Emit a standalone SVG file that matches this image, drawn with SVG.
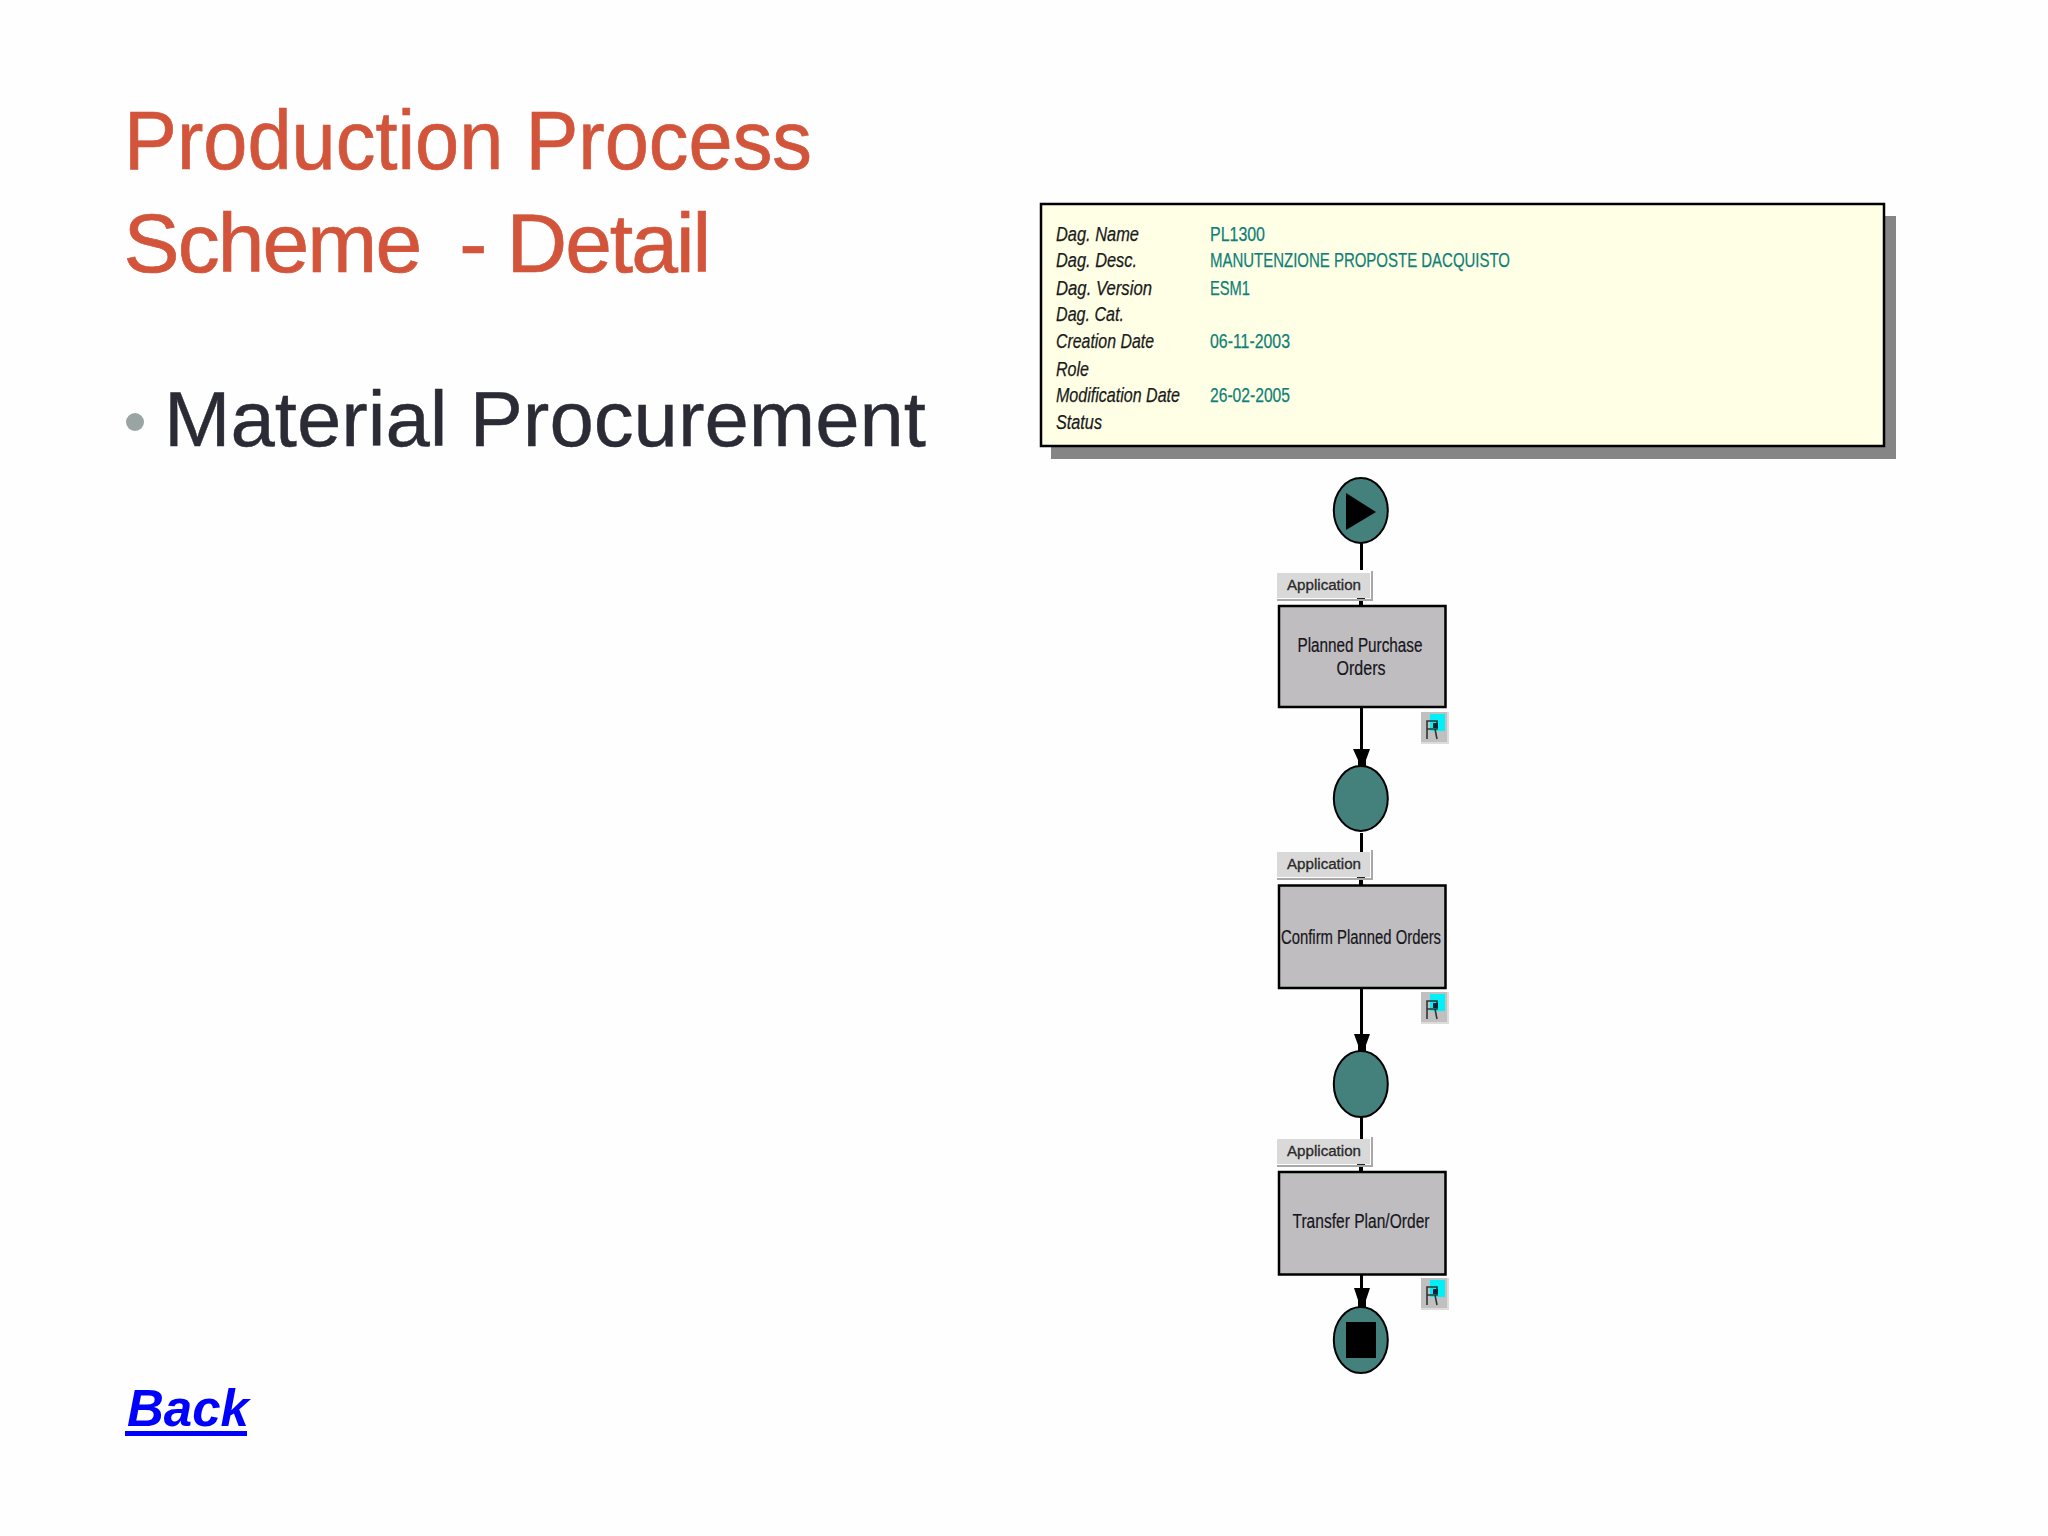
<svg xmlns="http://www.w3.org/2000/svg" width="2048" height="1536" viewBox="0 0 2048 1536">
<defs>
<style>
text{font-family:"Liberation Sans",Arial,sans-serif;white-space:pre}
.title{font-size:84px;fill:#d2553b;stroke:#d2553b;stroke-width:.7}
.bul{font-size:78px;fill:#2b2b35;stroke:#2b2b35;stroke-width:.4}
.lab{font-size:20px;font-style:italic;fill:#1a1a1a;stroke:#1a1a1a;stroke-width:.25}
.val{font-size:20px;fill:#0f7f78;stroke:#0f7f78;stroke-width:.25}
.app{font-size:14px;fill:#2a2a2a;stroke:#2a2a2a;stroke-width:.3;text-anchor:middle}
.nt{font-size:20px;fill:#15151c;stroke:#15151c;stroke-width:.2;text-anchor:middle}
.ev{fill:#44807c;stroke:#000;stroke-width:2}
.fn{fill:#bfbdbf;stroke:#000;stroke-width:2.5}
.appb{fill:#d9d9d9;stroke:none}
.line{stroke:#000;stroke-width:3;fill:none}
.edge{stroke:#a8a8a8;stroke-width:2;fill:none}
</style>
<g id="flag">
<rect x="0" y="0" width="27" height="31" fill="#c0c0c0"/>
<path d="M0 31H27V0" fill="none" stroke="#dcdcdc" stroke-width="2"/>
<rect x="9" y="2" width="15" height="17" fill="#00f0f8"/>
<path d="M6 27V9H16V17H6M14 17L16 27" fill="none" stroke="#333" stroke-width="1.6"/>
<rect x="12" y="11" width="5" height="5" fill="#123"/>
</g>
<g id="tick"><rect x="-4" y="0" width="8" height="3" fill="#222"/><rect x="-2" y="3" width="4" height="5" fill="#000"/></g>
</defs>
<rect width="2048" height="1536" fill="#fefefe"/>
<g id="slide-text">
<text class="title" x="124" y="169" textLength="688" lengthAdjust="spacingAndGlyphs">Production Process</text>
<text class="title" x="123.500" y="272"><tspan letter-spacing="-1.9">Scheme</tspan><tspan letter-spacing="-3.9">  </tspan><tspan letter-spacing="-2">- Detail</tspan></text>
<circle cx="135" cy="422" r="9" fill="#9aa5a3"/>
<text class="bul" x="164" y="446" textLength="762" lengthAdjust="spacingAndGlyphs">Material Procurement</text>
<text x="127" y="1426" font-size="52" font-weight="bold" font-style="italic" fill="#0000ff" textLength="122" lengthAdjust="spacingAndGlyphs">Back</text>
<rect x="125" y="1431" width="122" height="5" fill="#0000ff"/>
</g>
<g id="info-box">
<rect x="1051" y="216" width="845" height="243" fill="#858585"/>
<rect x="1041" y="204" width="843" height="242" fill="#ffffe6" stroke="#000" stroke-width="2.5"/>
<text class="lab" x="1056" y="241" textLength="83" lengthAdjust="spacingAndGlyphs">Dag. Name</text>
<text class="lab" x="1056" y="267" textLength="81" lengthAdjust="spacingAndGlyphs">Dag. Desc.</text>
<text class="lab" x="1056" y="295" textLength="96" lengthAdjust="spacingAndGlyphs">Dag. Version</text>
<text class="lab" x="1056" y="321" textLength="68" lengthAdjust="spacingAndGlyphs">Dag. Cat.</text>
<text class="lab" x="1056" y="348" textLength="98" lengthAdjust="spacingAndGlyphs">Creation Date</text>
<text class="lab" x="1056" y="376" textLength="33" lengthAdjust="spacingAndGlyphs">Role</text>
<text class="lab" x="1056" y="402" textLength="124" lengthAdjust="spacingAndGlyphs">Modification Date</text>
<text class="lab" x="1056" y="429" textLength="46" lengthAdjust="spacingAndGlyphs">Status</text>
<text class="val" x="1210" y="241" textLength="55" lengthAdjust="spacingAndGlyphs">PL1300</text>
<text class="val" x="1210" y="267" textLength="300" lengthAdjust="spacingAndGlyphs">MANUTENZIONE PROPOSTE DACQUISTO</text>
<text class="val" x="1210" y="295" textLength="40" lengthAdjust="spacingAndGlyphs">ESM1</text>
<text class="val" x="1210" y="348" textLength="80" lengthAdjust="spacingAndGlyphs">06-11-2003</text>
<text class="val" x="1210" y="402" textLength="80" lengthAdjust="spacingAndGlyphs">26-02-2005</text>
</g>
<g id="connectors">
<path class="line" d="M1361.5 543V570"/>
<path class="line" d="M1361.5 707V750"/>
<path class="line" d="M1361.5 833V853"/>
<path class="line" d="M1361.5 988V1036"/>
<path class="line" d="M1361.5 1117V1139"/>
<path class="line" d="M1361.5 1275V1290"/>
<polygon points="1353,749 1370,749 1366,760 1366,766 1358,766 1358,760" fill="#000"/>
<polygon points="1354,1034 1370,1034 1366,1045 1366,1051 1358,1051 1358,1045" fill="#000"/>
<polygon points="1354,1288 1370,1288 1366,1300 1366,1307 1358,1307 1358,1300" fill="#000"/>
<use href="#tick" x="1361" y="598"/>
<use href="#tick" x="1361" y="877"/>
<use href="#tick" x="1361" y="1164"/>
</g>
<g id="event-start">
<ellipse class="ev" cx="1360.8" cy="510.5" rx="27" ry="32.5"/>
<polygon points="1346,493 1376,512 1346,530" fill="#000"/>
</g>
<g id="app-1">
<path class="edge" d="M1277 600H1372V571"/><rect class="appb" x="1277" y="573" width="93" height="25"/>
<text class="app" x="1324" y="590" textLength="74" lengthAdjust="spacingAndGlyphs">Application</text>
</g>
<g id="fn-planned">
<rect class="fn" x="1279" y="606" width="166.500" height="101"/>
<text class="nt" x="1360" y="652" textLength="125" lengthAdjust="spacingAndGlyphs">Planned Purchase</text>
<text class="nt" x="1361" y="675" textLength="49" lengthAdjust="spacingAndGlyphs">Orders</text>
<use href="#flag" x="1421" y="712"/>
</g>
<g id="event-2">
<ellipse class="ev" cx="1360.8" cy="798.5" rx="27" ry="32.5"/>
</g>
<g id="app-2">
<path class="edge" d="M1277 879H1372V850"/><rect class="appb" x="1277" y="852" width="93" height="25"/>
<text class="app" x="1324" y="869" textLength="74" lengthAdjust="spacingAndGlyphs">Application</text>
</g>
<g id="fn-confirm">
<rect class="fn" x="1279" y="885.500" width="166.500" height="102.500"/>
<text class="nt" x="1361" y="944" textLength="160" lengthAdjust="spacingAndGlyphs">Confirm Planned Orders</text>
<use href="#flag" x="1421" y="992"/>
</g>
<g id="event-3">
<ellipse class="ev" cx="1360.8" cy="1084" rx="27" ry="33"/>
</g>
<g id="app-3">
<path class="edge" d="M1277 1166H1372V1137"/><rect class="appb" x="1277" y="1139" width="93" height="25"/>
<text class="app" x="1324" y="1156" textLength="74" lengthAdjust="spacingAndGlyphs">Application</text>
</g>
<g id="fn-transfer">
<rect class="fn" x="1279" y="1172" width="166.500" height="102.500"/>
<text class="nt" x="1361" y="1228" textLength="137" lengthAdjust="spacingAndGlyphs">Transfer Plan/Order</text>
<use href="#flag" x="1421" y="1278"/>
</g>
<g id="event-end">
<ellipse class="ev" cx="1360.8" cy="1340" rx="27" ry="33"/>
<rect x="1346" y="1322" width="30" height="36" fill="#000"/>
</g>
</svg>
